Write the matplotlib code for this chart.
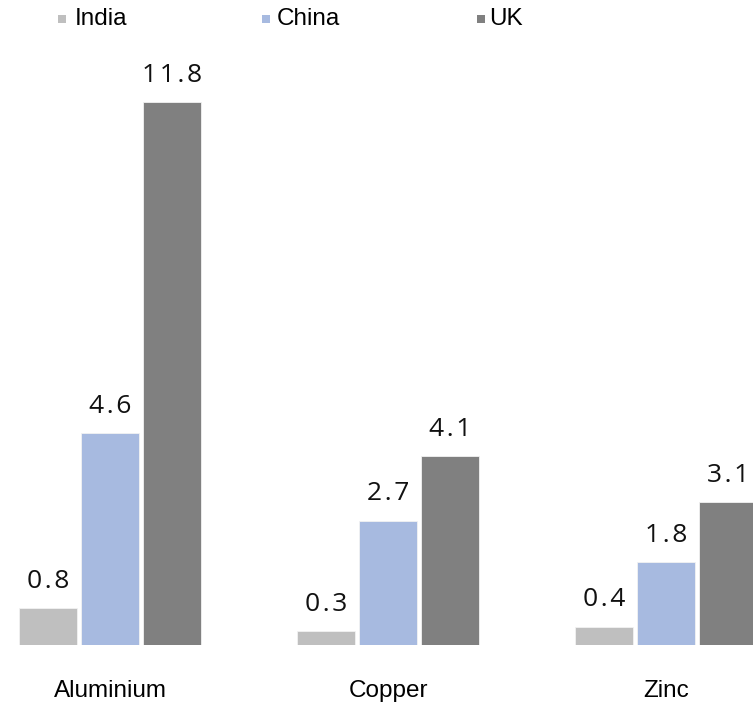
import matplotlib
matplotlib.use("Agg")
import matplotlib.pyplot as plt
from matplotlib.patches import Rectangle
from matplotlib import font_manager

metals = ["Aluminium", "Copper", "Zinc"]
countries = ["India", "China", "UK"]
india = [0.8, 0.3, 0.4]
china = [4.6, 2.7, 1.8]
uk = [11.8, 4.1, 3.1]
colors = ["#BFBFBF", "#A7BAE0", "#808080"]

names = {f.name for f in font_manager.fontManager.ttflist}
label_font = "Liberation Sans Narrow" if "Liberation Sans Narrow" in names else "Liberation Sans"
value_font = ["Open Sans", "DejaVu Sans"]


def spaced(s):
    # widen the tracking of the value labels with hair spaces
    return "\u200a".join(s)


W, H = 753, 703
fig = plt.figure(figsize=(W / 100, H / 100), dpi=100)
base_px = 645
ax = fig.add_axes([0, (H - base_px) / H, 1, base_px / H])

group_px = 278
x0_px = 110
ax.set_xlim(-x0_px / group_px, (W - x0_px) / group_px)
ax.set_ylim(0, base_px / 46.0)
ax.axis("off")

pitch = 62 / group_px
width = 58 / group_px
series = [india, china, uk]
for i, (vals, col) in enumerate(zip(series, colors)):
    xs = [g + (i - 1) * pitch for g in range(len(metals))]
    ax.bar(xs, vals, width=width, color=col, edgecolor="#F2F2F2", linewidth=0.6)
    for x, v in zip(xs, vals):
        ax.annotate(spaced(f"{v:.1f}"), (x, v), xytext=(0, 10.5), textcoords="offset points",
                    ha="center", va="bottom", fontsize=19, family=value_font,
                    color="#111111", annotation_clip=False)

for g, name in enumerate(metals):
    ax.annotate(name, (g, 0), xytext=(0, -33), textcoords="offset points",
                ha="center", va="center", fontsize=17.5, family=label_font,
                color="#000000", annotation_clip=False)

# legend row across the top
leg_marker_x = [58, 262, 477]
leg_text_x = [75, 277, 489]
leg_y = 19
for mx, tx, name, col in zip(leg_marker_x, leg_text_x, countries, colors):
    fig.patches.append(Rectangle((mx / W, 1 - (leg_y + 4) / H), 8 / W, 8 / H,
                                 transform=fig.transFigure, facecolor=col, edgecolor="none"))
    fig.text(tx / W, 1 - leg_y / H, name, ha="left", va="center",
             fontsize=17.5, family=label_font, color="#000000")

fig.savefig("out.png", dpi=100)
